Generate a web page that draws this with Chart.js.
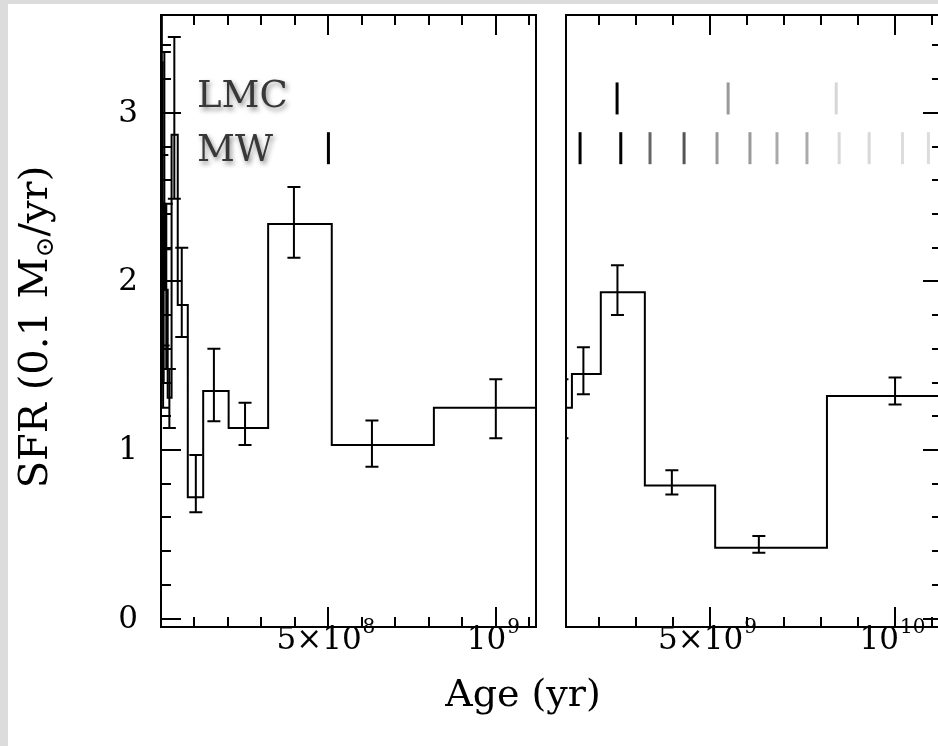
<!DOCTYPE html>
<html>
<head>
<meta charset="utf-8">
<script src="https://cdn.jsdelivr.net/npm/chart.js@4.4.1/dist/chart.umd.min.js"></script>
<style>
  html, body { margin: 0; padding: 0; background: #fff; overflow: hidden; }
  #wrap { position: relative; width: 938px; height: 746px; background: #fff; overflow: hidden; }
  #edgeL { position: absolute; left: 0; top: 0; width: 8px; height: 746px; background: #dcdcdc; }
  #edgeT { position: absolute; left: 0; top: 0; width: 938px; height: 4px; background: #dcdcdc; }
  canvas { position: absolute; left: 0; top: 0; }
</style>
</head>
<body>
<div id="wrap">
  <canvas id="left" width="938" height="746"></canvas>
  <canvas id="right" width="938" height="746"></canvas>
  <div id="edgeL"></div>
  <div id="edgeT"></div>
</div>
<script>
// star formation history (age in yr, SFR in 0.1 Msun/yr)
const binEdges = [0, 5e6, 7.9e6, 1.26e7, 2.0e7, 3.16e7, 5.0e7, 8.0e7, 1.26e8, 2.02e8, 3.2e8,
                  5.1e8, 8.15e8, 1.27e9, 2.05e9, 3.24e9, 5.14e9, 8.16e9, 1.4e10];
const sfr    = [3.30, 1.40, 2.46, 1.95, 1.31, 2.87, 1.86, 0.72, 1.35, 1.13, 2.34,
                1.03, 1.25, 1.45, 1.935, 0.79, 0.42, 1.32];
const errAge = [2.5e6, 6.3e6, 1.0e7, 1.58e7, 2.5e7, 3.98e7, 6.2e7, 1.04e8, 1.58e8, 2.51e8, 3.97e8,
                6.3e8, 1.0e9, 1.58e9, 2.5e9, 3.97e9, 6.32e9, 1.0e10];
const errLo  = [2.75, 1.25, 2.19, 1.48, 1.13, 2.49, 1.67, 0.63, 1.17, 1.03, 2.14,
                0.90, 1.07, 1.33, 1.80, 0.736, 0.39, 1.27];
const errHi  = [3.60, 1.62, 3.36, 2.46, 1.48, 3.45, 2.20, 0.97, 1.60, 1.28, 2.56,
                1.175, 1.42, 1.61, 2.095, 0.88, 0.49, 1.43];

// pericentre passages
const lmcPassages = [2.49e9, 5.49e9, 8.41e9];
const mwPassages  = [5.0e8, 1.49e9, 2.59e9, 3.38e9, 4.30e9, 5.19e9, 6.08e9, 6.81e9, 7.62e9,
                     8.49e9, 9.30e9, 1.02e10, 1.09e10];
const lmcShade = ['#000', '#999', '#d6d6d6'];
const mwShade  = ['#000', '#000', '#000', '#666', '#555', '#999', '#999', '#aaa', '#aaa',
                  '#d8d8d8', '#d8d8d8', '#dcdcdc', '#dcdcdc'];

const yTickValues = [0, 1, 2, 3];
const yTickLabels = ['0', '1', '2', '3'];
const xTicksLeft  = [5e8, 1e9];
const xBaseLeft   = ['5×10', '10'];
const xExpLeft    = ['8', '9'];
const xTicksRight = [5e9, 1e10];
const xBaseRight  = ['5×10', '10'];
const xExpRight   = ['9', '10'];

const Y_MIN = -0.05, Y_MAX = 3.58;
const LMC_ROW = 3.085, MW_ROW = 2.79;
const SERIF = '"DejaVu Serif", "Liberation Serif", serif';

function decorations(o) {
  return {
    id: 'decor' + o.id,
    afterDatasetsDraw(chart) {
      const ctx = chart.ctx, a = chart.chartArea;
      const xs = chart.scales.x, ys = chart.scales.y;
      ctx.save();
      ctx.beginPath();
      ctx.rect(a.left, a.top, a.right - a.left, a.bottom - a.top);
      ctx.clip();
      ctx.strokeStyle = '#000';
      ctx.lineWidth = 2;
      errAge.forEach((age, i) => {
        const px = xs.getPixelForValue(age);
        if (px < a.left - 8 || px > a.right + 8) return;
        const y1 = ys.getPixelForValue(errLo[i]), y2 = ys.getPixelForValue(errHi[i]);
        ctx.beginPath();
        ctx.moveTo(px, y1); ctx.lineTo(px, y2);
        ctx.moveTo(px - 6.5, y1); ctx.lineTo(px + 6.5, y1);
        ctx.moveTo(px - 6.5, y2); ctx.lineTo(px + 6.5, y2);
        ctx.stroke();
      });
      ctx.restore();
    },
    afterDraw(chart) {
      const ctx = chart.ctx, a = chart.chartArea;
      const xs = chart.scales.x, ys = chart.scales.y;
      ctx.save();
      ctx.strokeStyle = '#000';
      ctx.lineWidth = 2;
      // frame (the right panel runs off the image on its right side)
      ctx.beginPath();
      if (o.ySide === 'left') {
        ctx.rect(a.left, a.top, a.right - a.left, a.bottom - a.top);
      } else {
        ctx.moveTo(a.right + 5, a.top); ctx.lineTo(a.left, a.top);
        ctx.lineTo(a.left, a.bottom); ctx.lineTo(a.right + 5, a.bottom);
      }
      ctx.stroke();

      // x tick marks, top and bottom, pointing in
      ctx.beginPath();
      for (let k = o.firstMinor; k * o.minorStep <= o.xMax; k++) {
        const v = k * o.minorStep;
        const len = o.xTicks.includes(v) ? 20 : 10;
        const px = Math.round(xs.getPixelForValue(v));
        ctx.moveTo(px, a.bottom); ctx.lineTo(px, a.bottom - len);
        ctx.moveTo(px, a.top); ctx.lineTo(px, a.top + len);
      }
      // y tick marks on one side
      for (let k = 0; k * 0.2 <= Y_MAX; k++) {
        const v = k * 0.2;
        const py = Math.round(ys.getPixelForValue(v));
        if (o.ySide === 'left') {
          const len = k % 5 === 0 ? 20 : 10;
          ctx.moveTo(a.left, py); ctx.lineTo(a.left + len, py);
        } else {
          const len = k % 5 === 0 ? 15 : 6;
          ctx.moveTo(a.right, py); ctx.lineTo(a.right - len, py);
        }
      }
      ctx.stroke();

      // x tick labels with exponents
      ctx.fillStyle = '#000';
      ctx.textBaseline = 'middle';
      ctx.textAlign = 'left';
      o.xTicks.forEach((v, i) => {
        const px = xs.getPixelForValue(v);
        ctx.font = '31px ' + SERIF;
        const wb = ctx.measureText(o.xBase[i]).width;
        ctx.font = '20px ' + SERIF;
        const we = ctx.measureText(o.xExp[i]).width;
        const x0 = px - (wb + we) / 2 - 3;
        ctx.font = '31px ' + SERIF;
        ctx.fillText(o.xBase[i], x0, 641);
        ctx.font = '20px ' + SERIF;
        ctx.fillText(o.xExp[i], x0 + wb + 1, 628);
      });

      if (o.id === 'L') {
        // y tick labels
        ctx.font = '31px ' + SERIF;
        ctx.textAlign = 'right';
        yTickValues.forEach((v, i) => {
          ctx.fillText(yTickLabels[i], a.left - 23, ys.getPixelForValue(v) + 1);
        });
        // axis titles
        ctx.textAlign = 'center';
        ctx.font = '38px ' + SERIF;
        ctx.fillText('Age (yr)', 523, 696);

        ctx.save();
        ctx.translate(37, 327);
        ctx.rotate(-Math.PI / 2);
        ctx.textAlign = 'left';
        const p1 = 'SFR (0.1 M', sub = '⊙', p2 = '/yr)';
        ctx.font = '40px ' + SERIF;
        const w1 = ctx.measureText(p1).width, w3 = ctx.measureText(p2).width;
        ctx.font = '25px ' + SERIF;
        const w2 = ctx.measureText(sub).width;
        const x0 = -(w1 + w2 + w3) / 2;
        ctx.font = '40px ' + SERIF;
        ctx.fillText(p1, x0, 0);
        ctx.font = '25px ' + SERIF;
        ctx.fillText(sub, x0 + w1, 9);
        ctx.font = '40px ' + SERIF;
        ctx.fillText(p2, x0 + w1 + w2, 0);
        ctx.restore();

        // row names
        ctx.font = '37px ' + SERIF;
        ctx.textAlign = 'left';
        ctx.textBaseline = 'alphabetic';
        ctx.fillStyle = '#383838';
        ctx.shadowColor = 'rgba(0,0,0,0.45)';
        ctx.shadowBlur = 5;
        ctx.shadowOffsetX = 2;
        ctx.shadowOffsetY = 3;
        ctx.fillText('LMC', 197, 107);
        ctx.fillText('MW', 197, 161);
      }
      ctx.restore();
    }
  };
}

function panel(id, o) {
  // each bin's value holds from its own edge to the next one
  const stepPts = binEdges.map((e, i) => ({ x: e, y: sfr[Math.min(i, sfr.length - 1)] }));
  const inRange = age => age >= o.xMin && age <= o.xMax;
  const lmcIdx = lmcPassages.map((a, i) => i).filter(i => inRange(lmcPassages[i]));
  const mwIdx = mwPassages.map((a, i) => i).filter(i => inRange(mwPassages[i]));
  return new Chart(document.getElementById(id), {
    type: 'scatter',
    data: {
      datasets: [
        {
          data: stepPts, showLine: true, stepped: 'before',
          borderColor: '#000', borderWidth: 2, pointRadius: 0, fill: false
        },
        {
          data: lmcIdx.map(i => ({ x: lmcPassages[i], y: LMC_ROW })),
          pointStyle: 'line', pointRotation: 90, pointRadius: 16, pointBorderWidth: 3,
          pointBorderColor: lmcIdx.map(i => lmcShade[i])
        },
        {
          data: mwIdx.map(i => ({ x: mwPassages[i], y: MW_ROW })),
          pointStyle: 'line', pointRotation: 90, pointRadius: 16, pointBorderWidth: 3,
          pointBorderColor: mwIdx.map(i => mwShade[i])
        }
      ]
    },
    options: {
      responsive: false,
      animation: false,
      events: [],
      layout: { padding: o.pad, autoPadding: false },
      plugins: { legend: { display: false }, tooltip: { enabled: false } },
      scales: {
        x: { type: 'linear', min: o.xMin, max: o.xMax, display: false },
        y: { type: 'linear', min: Y_MIN, max: Y_MAX, display: false }
      }
    },
    plugins: [decorations(o)]
  });
}

panel('left', {
  id: 'L', xMin: 0, xMax: 1.12e9, pad: { left: 161, top: 15, right: 402, bottom: 119 },
  minorStep: 1e8, firstMinor: 1, xTicks: xTicksLeft, xBase: xBaseLeft, xExp: xExpLeft, ySide: 'left'
});
panel('right', {
  id: 'R', xMin: 1.11e9, xMax: 1.116e10, pad: { left: 566, top: 15, right: 0, bottom: 119 },
  minorStep: 1e9, firstMinor: 2, xTicks: xTicksRight, xBase: xBaseRight, xExp: xExpRight, ySide: 'right'
});
</script>
</body>
</html>
